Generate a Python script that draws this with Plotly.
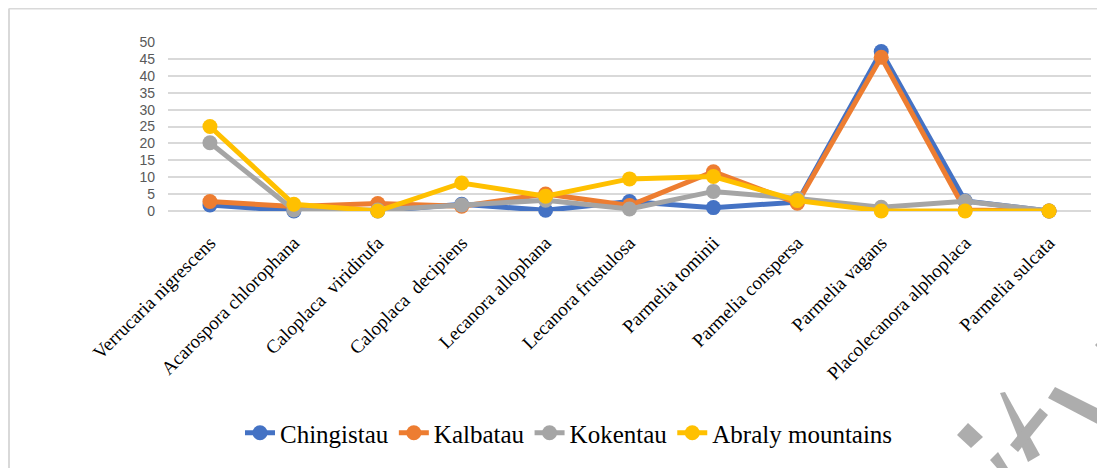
import plotly.graph_objects as go

categories = [
    "Verrucaria nigrescens",
    "Acarospora chlorophana",
    "Caloplaca\u00a0 viridirufa",
    "Caloplaca\u00a0 decipiens",
    "Lecanora allophana",
    "Lecanora frustulosa",
    "Parmelia tominii",
    "Parmelia conspersa",
    "Parmelia vagans",
    "Placolecanora alphoplaca",
    "Parmelia sulcata",
]

chingistau = [1.8, 0, 0, 2, 0.2, 2.8, 1, 2.6, 47.2, 3, 0]
kalbatau = [2.8, 1.3, 2.2, 1.4, 5, 1.6, 11.6, 2.3, 45.5, 0.3, 0]
kokentau = [20.2, 0.3, 0.3, 1.8, 3.2, 0.6, 5.8, 3.7, 1.1, 2.9, 0]
abraly = [25, 2, 0, 8.3, 4.4, 9.5, 10.2, 3.1, 0, 0, 0]

series = [
    ("Chingistau", chingistau, "#4472C4"),
    ("Kalbatau", kalbatau, "#ED7D31"),
    ("Kokentau", kokentau, "#A5A5A5"),
    ("Abraly mountains", abraly, "#FFC000"),
]

y_ticks = list(range(0, 55, 5))

SERIF = "Liberation Serif, Times New Roman, serif"

# page offset (browser body margin = 8px)
OFF = 8
W, H = 1105 - OFF, 468 - OFF
L, T, PW, PH = 168 - OFF, 42 - OFF, 923, 169

fig = go.Figure()
for name, vals, color in series:
    fig.add_trace(go.Scatter(
        x=list(range(len(categories))), y=vals, name=name,
        mode="lines+markers",
        line=dict(color=color, width=5),
        marker=dict(color=color, size=15),
        cliponaxis=False,
    ))

def px(x, y):
    """reference page pixel -> paper coords"""
    return ((x - OFF - L) / PW, (T + PH - (y - OFF)) / PH)

fig.update_layout(
    width=W, height=H,
    font=dict(family=SERIF, color="black"),
    margin=dict(l=L, r=W - L - PW, t=T, b=H - T - PH, autoexpand=False),
    paper_bgcolor="white", plot_bgcolor="white",
    showlegend=True,
    legend=dict(
        orientation="h", x=(569 - OFF) / W, xanchor="center", y=1 - (433 - OFF) / H, yanchor="middle",
        xref="container", yref="container",
        font=dict(family=SERIF, size=25, color="black"),
        itemwidth=30, tracegroupgap=0,
    ),
    xaxis=dict(
        tickmode="array", tickvals=list(range(len(categories))), ticktext=categories,
        range=[-0.5, len(categories) - 0.5], automargin=False,
        tickangle=-45, showgrid=False, zeroline=False, showline=False,
        tickfont=dict(family=SERIF, size=19, color="black"),
        ticks="", ticklabelstandoff=16,
    ),
    yaxis=dict(
        range=[0, 50], tickvals=y_ticks, automargin=False,
        showgrid=True, gridcolor="#D9D9D9", gridwidth=1.5,
        zeroline=True, zerolinecolor="#D9D9D9", zerolinewidth=1.5,
        showline=False, ticks="", ticklabelstandoff=12,
        tickfont=dict(family="Liberation Sans", size=14, color="#595959"),
    ),
)

# chart frame
x_left, y_top = px(9, 8.5)
_, y_bot = px(9, 468)
x_right, _ = px(1105, 0)
fig.add_shape(type="line", xref="paper", yref="paper", x0=x_left, x1=x_left, y0=y_bot, y1=y_top,
              line=dict(color="#D9D9D9", width=2))
fig.add_shape(type="line", xref="paper", yref="paper", x0=x_left, x1=x_right, y0=y_top, y1=y_top,
              line=dict(color="#D9D9D9", width=2))

# watermark fragments (decorative, bottom-right)
wm = [
    [(957, 435), (968, 423), (983, 437), (971, 448)],
    [(1000, 393), (1005, 392), (1040, 455), (1028, 462)],
    [(1010, 445), (1040, 408), (1048, 415), (1018, 452)],
    [(1048, 398), (1055, 387), (1105, 412), (1105, 428)],
    [(1095, 345), (1105, 335), (1105, 355)],
    [(990, 460), (998, 452), (1008, 468), (997, 468)],
]
for poly in wm:
    pts = [px(*p) for p in poly]
    path = "M " + " L ".join(f"{a},{b}" for a, b in pts) + " Z"
    fig.add_shape(type="path", path=path, xref="paper", yref="paper",
                  fillcolor="#ADADAD", line=dict(width=0))

fig.write_html("out.html")
